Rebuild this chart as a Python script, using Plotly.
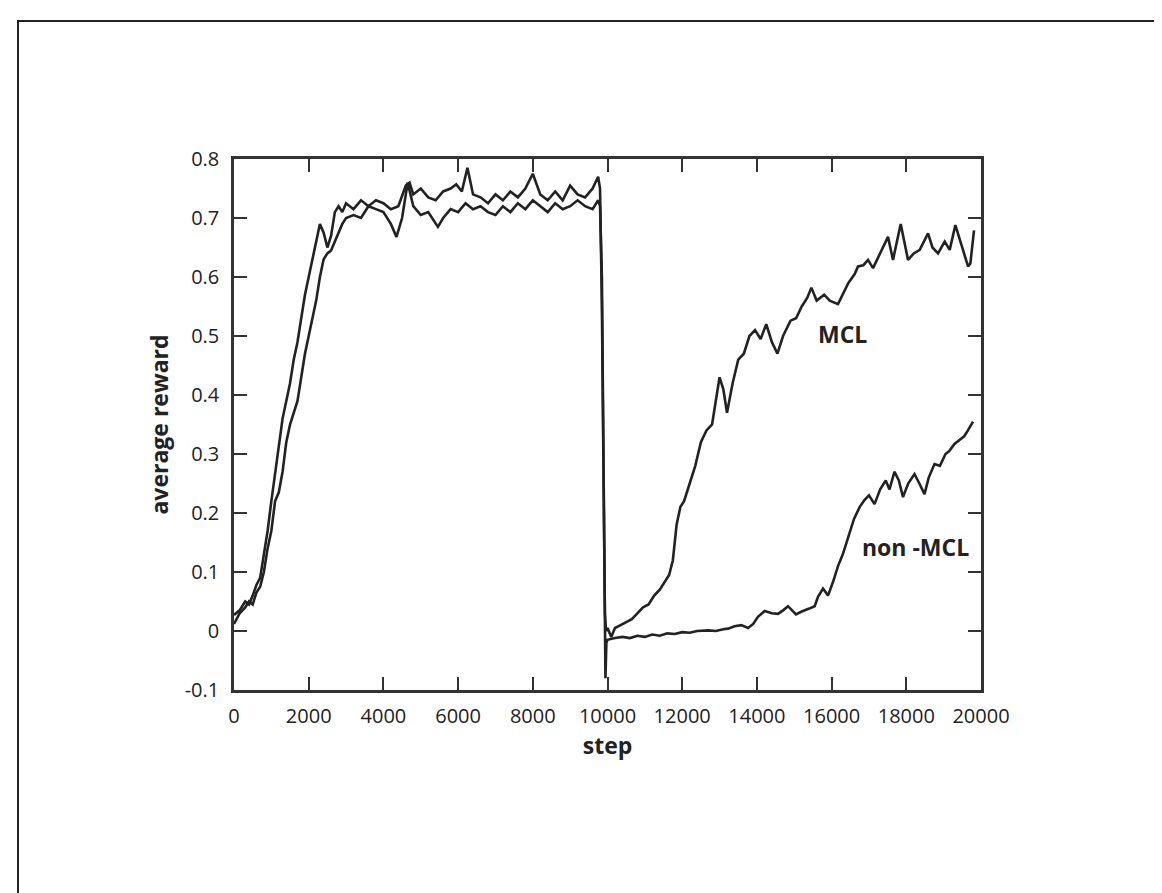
import plotly.graph_objects as go

# ---- data ----
mcl_steps = [0, 150, 300, 400, 500, 600, 700, 800, 900, 1000, 1100, 1200, 1300, 1400, 1500,
             1600, 1700, 1800, 1900, 2000, 2100, 2200, 2300, 2400, 2500, 2600, 2700, 2800, 2900,
             3000, 3200, 3400, 3600, 3800, 4000, 4200, 4400, 4600, 4700, 4800, 5000, 5200, 5400,
             5600, 5800, 5950, 6100, 6250, 6400, 6600, 6800, 7000, 7200, 7400, 7600, 7800, 8000,
             8200, 8400, 8600, 8800, 9000, 9200, 9400, 9600, 9750, 9800, 9850, 9880, 9900, 9930,
             9960, 10000, 10100, 10200, 10350, 10500, 10650, 10800, 10950, 11100, 11250, 11400,
             11550, 11650, 11750, 11850, 11950, 12050, 12200, 12350, 12500, 12650, 12800, 12900,
             13000, 13100, 13200, 13350, 13500, 13650, 13800, 13950, 14100, 14250, 14400, 14550,
             14700, 14900, 15050, 15200, 15350, 15458, 15600, 15800, 15950, 16171, 16300, 16450,
             16618, 16707, 16850, 16975, 17109, 17300, 17510, 17644, 17850, 18046, 18200, 18359,
             18582, 18700, 18850, 19028, 19162, 19314, 19450, 19550, 19653, 19715, 19813]
mcl_reward = [0.027, 0.035, 0.05, 0.045, 0.06, 0.078, 0.09, 0.13, 0.17, 0.22, 0.27, 0.31, 0.36, 0.39, 0.42,
              0.46, 0.49, 0.53, 0.57, 0.60, 0.63, 0.66, 0.69, 0.675, 0.65, 0.67, 0.71, 0.72, 0.71,
              0.725, 0.715, 0.73, 0.72, 0.73, 0.725, 0.715, 0.72, 0.755, 0.76, 0.74, 0.75, 0.735, 0.73,
              0.745, 0.75, 0.757, 0.745, 0.785, 0.74, 0.735, 0.725, 0.74, 0.73, 0.745, 0.735, 0.75, 0.775,
              0.74, 0.73, 0.745, 0.73, 0.755, 0.74, 0.735, 0.75, 0.77, 0.75, 0.55, 0.30, 0.15, 0.03,
              0.0, 0.005, -0.01, 0.005, 0.01, 0.015, 0.02, 0.03, 0.04, 0.045, 0.06, 0.07,
              0.085, 0.095, 0.12, 0.18, 0.21, 0.22, 0.25, 0.28, 0.32, 0.34, 0.35, 0.39,
              0.43, 0.41, 0.37, 0.42, 0.46, 0.47, 0.50, 0.51, 0.495, 0.52, 0.49, 0.47,
              0.50, 0.526, 0.53, 0.55, 0.565, 0.582, 0.56, 0.57, 0.56, 0.554, 0.57, 0.59,
              0.605, 0.618, 0.62, 0.629, 0.615, 0.64, 0.668, 0.629, 0.69, 0.629, 0.64, 0.646,
              0.674, 0.65, 0.64, 0.66, 0.646, 0.688, 0.66, 0.64, 0.618, 0.623, 0.679]

non_steps = [0, 150, 300, 400, 500, 600, 700, 800, 900, 1000, 1100, 1200, 1300, 1400, 1500,
             1600, 1700, 1800, 1900, 2000, 2100, 2200, 2300, 2400, 2500, 2600, 2700, 2800, 2900,
             3000, 3200, 3400, 3600, 3800, 4000, 4200, 4350, 4500, 4650, 4800, 5000, 5200, 5460,
             5600, 5800, 6000, 6200, 6400, 6600, 6800, 7000, 7200, 7400, 7600, 7800, 8000, 8200,
             8400, 8600, 8800, 9000, 9200, 9400, 9600, 9750, 9800, 9850, 9880, 9900, 9930, 9945,
             9970, 10000, 10200, 10400, 10600, 10800, 11000, 11200, 11400, 11600, 11800, 12000,
             12200, 12400, 12700, 12900, 13100, 13226, 13400, 13583, 13762, 13900, 14029, 14208,
             14400, 14565, 14700, 14833, 15047, 15200, 15400, 15547, 15636, 15770, 15904, 16037,
             16171, 16300, 16450, 16600, 16750, 16880, 17000, 17150, 17300, 17450, 17550, 17684,
             17800, 17912, 18050, 18220, 18350, 18487, 18600, 18755, 18900, 19050, 19150, 19290,
             19450, 19550, 19650, 19786]
non_reward = [0.012, 0.03, 0.04, 0.05, 0.045, 0.065, 0.075, 0.10, 0.14, 0.17, 0.22, 0.235, 0.27, 0.32, 0.35,
              0.37, 0.39, 0.43, 0.47, 0.50, 0.53, 0.56, 0.60, 0.63, 0.64, 0.645, 0.66, 0.675, 0.69,
              0.70, 0.705, 0.70, 0.72, 0.715, 0.71, 0.69, 0.668, 0.70, 0.76, 0.72, 0.705, 0.71, 0.685,
              0.70, 0.715, 0.71, 0.725, 0.715, 0.72, 0.71, 0.705, 0.72, 0.71, 0.725, 0.715, 0.73, 0.72,
              0.71, 0.725, 0.715, 0.72, 0.73, 0.72, 0.715, 0.73, 0.72, 0.60, 0.35, 0.20, -0.03, -0.08,
              -0.02, -0.015, -0.012, -0.01, -0.012, -0.008, -0.01, -0.006, -0.008, -0.004, -0.005, -0.002,
              -0.003, 0.0, 0.001, 0.0, 0.003, 0.004, 0.008, 0.01, 0.005, 0.012, 0.024, 0.034,
              0.03, 0.029, 0.035, 0.042, 0.028, 0.033, 0.038, 0.042, 0.058, 0.072, 0.06, 0.083,
              0.11, 0.13, 0.16, 0.19, 0.21, 0.222, 0.23, 0.215, 0.24, 0.255, 0.24, 0.27,
              0.255, 0.227, 0.25, 0.266, 0.25, 0.232, 0.26, 0.283, 0.28, 0.30, 0.305, 0.317,
              0.325, 0.33, 0.34, 0.355]

x_ticks = [0, 2000, 4000, 6000, 8000, 10000, 12000, 14000, 16000, 18000, 20000]
y_ticks = [-0.1, 0, 0.1, 0.2, 0.3, 0.4, 0.5, 0.6, 0.7, 0.8]
y_tick_labels = ["-0.1", "0", "0.1", "0.2", "0.3", "0.4", "0.5", "0.6", "0.7", "0.8"]

labels = ["MCL", "non -MCL"]
label_steps = [16280, 18250]
label_values = [0.503, 0.142]

INK = "#222222"
FONT = "Open Sans"

fig = go.Figure()
fig.add_trace(go.Scatter(x=mcl_steps, y=mcl_reward, mode="lines",
                         line=dict(color=INK, width=2.6), name="MCL"))
fig.add_trace(go.Scatter(x=non_steps, y=non_reward, mode="lines",
                         line=dict(color=INK, width=2.6), name="non-MCL"))

for t, sx, vy in zip(labels, label_steps, label_values):
    fig.add_annotation(x=sx, y=vy, text=f"<b>{t}</b>", showarrow=False,
                       font=dict(family=FONT, size=23, color=INK))

# outer frame of the page
fig.add_shape(type="rect", xref="paper", yref="paper",
              x0=(10 - 226) / 747, x1=(1175 - 226) / 747,
              y0=(682 - 905) / 531, y1=(682 - 13) / 531,
              line=dict(color=INK, width=2), layer="below")

axis_common = dict(showline=True, linecolor="#333333", linewidth=2.5, mirror="ticks",
                   ticks="inside", ticklen=13, tickwidth=1.5, tickcolor="#333333",
                   showgrid=False, zeroline=False,
                   tickfont=dict(family=FONT, size=20, color=INK))

fig.update_layout(
    width=1162, height=893,
    margin=dict(l=226, r=189, t=151, b=211),
    paper_bgcolor="white", plot_bgcolor="white",
    showlegend=False,
    xaxis=dict(range=[0, 20000], tickvals=x_ticks, ticktext=[str(v) for v in x_ticks],
               title=dict(text="<b>step</b>", font=dict(family=FONT, size=23, color=INK), standoff=8),
               ticklabelstandoff=6, **axis_common),
    yaxis=dict(range=[-0.1, 0.8], tickvals=y_ticks, ticktext=y_tick_labels,
               title=dict(text="<b>average reward</b>", font=dict(family=FONT, size=23, color=INK), standoff=10),
               ticklabelstandoff=8, **axis_common),
)

fig.write_html("out.html")
